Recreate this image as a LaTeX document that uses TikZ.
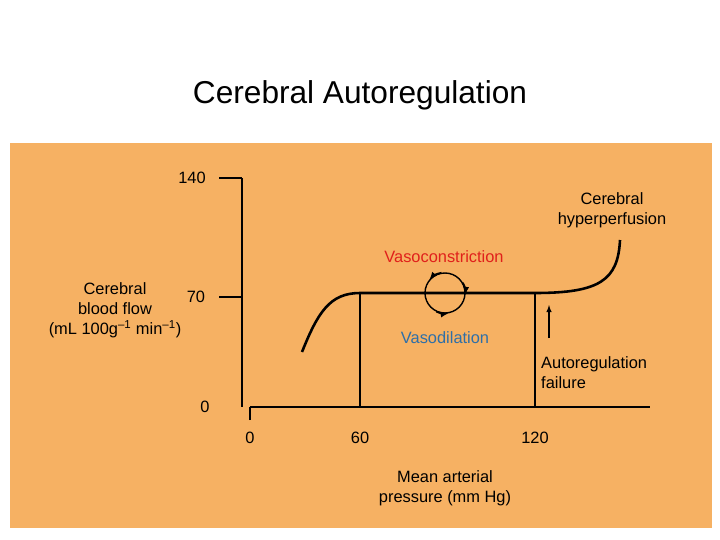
\documentclass[tikz,border=0pt]{standalone}
\usepackage{fontspec}
\setmainfont{Liberation Sans}
\usetikzlibrary{positioning}
\definecolor{panel}{HTML}{F6B163}
\definecolor{vcred}{HTML}{E0201B}
\definecolor{vdblue}{HTML}{2E6FA8}
\tikzstyle{lbl} = [font=\fontsize{14}{17}\selectfont, align=center, inner sep=0pt]
\tikzstyle{axis} = [line width=1.1pt]

\begin{document}
\begin{tikzpicture}[x=0.3mm, y=-0.3mm]
  \useasboundingbox (0,0) rectangle (720,540);
  \fill[white] (0,0) rectangle (720,540);
  \fill[panel] (10,143) rectangle (712,528);
  \node (title) at (360,95) [font=\fontsize{27}{32}\selectfont] {Cerebral Autoregulation};

  % axes
  \coordinate (ytop) at (242,178);
  \coordinate (ybot) at (242,407);
  \coordinate (xl) at (250,407);
  \coordinate (xr) at (650,407);
  \draw [axis] (ytop) -- (ybot);
  \draw [axis] (219,178) -- (ytop);
  \draw [axis] (219,297) -- (242,297);
  \draw [axis] (xl) -- (xr);
  \draw [axis] (250,420) -- (xl);
  \node (y140) at (192,178) [lbl] {140};
  \node (y70) at (196,297) [lbl] {70};
  \node (y0) at (205,407) [lbl] {0};
  \node (x0) at (250,438) [lbl] {0};
  \node (x60) at (360,438) [lbl] {60};
  \node (x120) at (535,438) [lbl] {120};
  \node (xlab) at (445,488) [lbl] {Mean arterial\\pressure (mm Hg)};
  \node (ylab) at (115,310) [lbl] {Cerebral\\blood flow\\(mL 100g\textsuperscript{--1} min\textsuperscript{--1})};

  % curve
  \coordinate (lo) at (360,293);
  \coordinate (hi) at (535,293);
  \draw [axis] (lo) -- (360,407);
  \draw [axis] (hi) -- (535,407);
  \draw [line width=2.2pt] (302,352) .. controls (318,312) and (330,293) .. (lo)
    -- (hi) .. controls (600,293) and (618,280) .. (620,240);

  % loop
  \node (loop) at (445,293) [circle, draw, line width=1.2pt, minimum size=12mm, inner sep=0pt] {};
  \draw [line width=1.2pt, -latex] (loop.100) arc (100:140:6mm);
  \draw [line width=1.2pt, -latex] (loop.30) arc (30:-5:6mm);
  \draw [line width=1.2pt, -latex] (loop.245) arc (245:280:6mm);
  \node (vc) at (444,257) [lbl, text=vcred] {Vasoconstriction};
  \node (vd) at (445,338) [lbl, text=vdblue] {Vasodilation};

  \node (fail) at (541,373) [lbl, align=left, anchor=west] {Autoregulation\\failure};
  \coordinate (failtip) at (549,305);
  \draw [line width=1.1pt, -latex] (549,338) -- (failtip);
  \node (hyper) at (612,210) [lbl] {Cerebral\\hyperperfusion};
\end{tikzpicture}
\end{document}
